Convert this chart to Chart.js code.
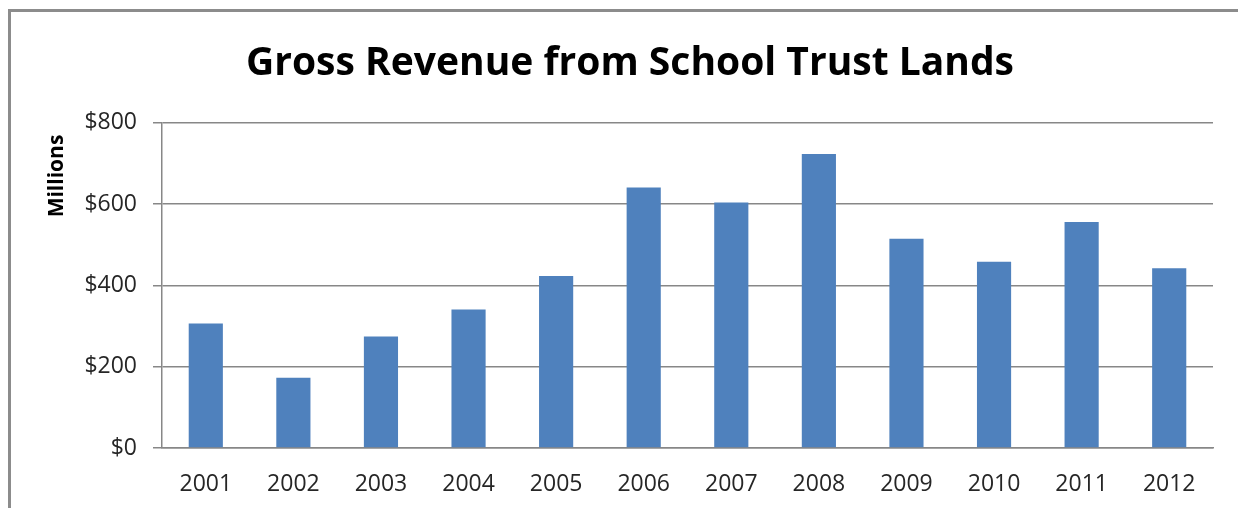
<!DOCTYPE html>
<html>
<head>
<meta charset="utf-8">
<script src="https://cdn.jsdelivr.net/npm/chart.js@4/dist/chart.umd.min.js"></script>
<style>
  html, body { margin: 0; background: #fff; overflow: hidden; width: 1238px; height: 508px; }
  #frame { position: absolute; left: 8px; top: 9px; width: 2000px; height: 900px;
           border-left: 3px solid #8c8c8c; border-top: 3px solid #8c8c8c; }
  #wrap { position: absolute; left: 0; top: 0; width: 1238px; height: 508px; }
</style>
</head>
<body>
<div id="frame"></div>
<div id="wrap"><canvas id="revenue" width="1238" height="508"></canvas></div>
<script>
var years = ["2001", "2002", "2003", "2004", "2005", "2006", "2007", "2008", "2009", "2010", "2011", "2012"];
var revenue = [306, 173, 274, 341, 423, 641, 604, 723, 515, 458, 556, 442];
var yTicks = [0, 200, 400, 600, 800];

var CANVAS = document.getElementById("revenue");

// "Millions" sits near the top of the y axis, not centred on it
var unitLabel = {
  id: 'unitLabel',
  afterDraw: function (chart) {
    var ctx = chart.ctx;
    ctx.save();
    ctx.translate(57, 176);
    ctx.rotate(-Math.PI / 2);
    ctx.font = "bold 21px 'Open Sans'";
    ctx.fillStyle = "#000";
    ctx.textAlign = "center";
    ctx.textBaseline = "middle";
    ctx.fillText("Millions", 0, 0);
    ctx.restore();
  }
};

var revenueChart = new Chart(CANVAS, {
  type: 'bar',
  data: {
    labels: years,
    datasets: [{
      data: revenue,
      backgroundColor: "#4f81bd",
      borderWidth: 0,
      barPercentage: 0.39,
      categoryPercentage: 1.0
    }]
  },
  options: {
    responsive: false,
    animation: false,
    layout: { padding: { left: 22, right: 0, top: 0, bottom: 0 } },
    plugins: {
      legend: { display: false },
      tooltip: { enabled: false },
      title: {
        display: true,
        text: "Gross Revenue from School Trust Lands",
        color: "#000",
        font: { family: "Open Sans", size: 39, weight: "bold", lineHeight: 1.2 },
        padding: { top: 40, bottom: 36 }
      }
    },
    scales: {
      x: {
        grid: { display: false, drawTicks: false },
        border: { display: true, color: "#878787", width: 1.5 },
        ticks: { color: "#262626", font: { family: "Open Sans", size: 23 }, padding: 23 },
        afterFit: function (scale) { scale.height = 60; }
      },
      y: {
        min: 0,
        max: 800,
        afterBuildTicks: function (scale) {
          scale.ticks = yTicks.map(function (v) { return { value: v }; });
        },
        grid: { color: "#878787", lineWidth: 1.5, tickLength: 9 },
        border: { display: true, color: "#878787", width: 1.5 },
        ticks: {
          color: "#262626",
          font: { family: "Open Sans", size: 23 },
          padding: 16,
          callback: function (v) { return "$" + v; }
        },
        afterFit: function (scale) { scale.width = 140; }
      },
      spacer: {
        type: 'linear',
        position: 'right',
        display: true,
        grid: { display: false, drawTicks: false },
        border: { display: false },
        ticks: { display: false },
        afterFit: function (scale) { scale.width = 25; }
      }
    }
  },
  plugins: [unitLabel]
});
</script>
</body>
</html>
